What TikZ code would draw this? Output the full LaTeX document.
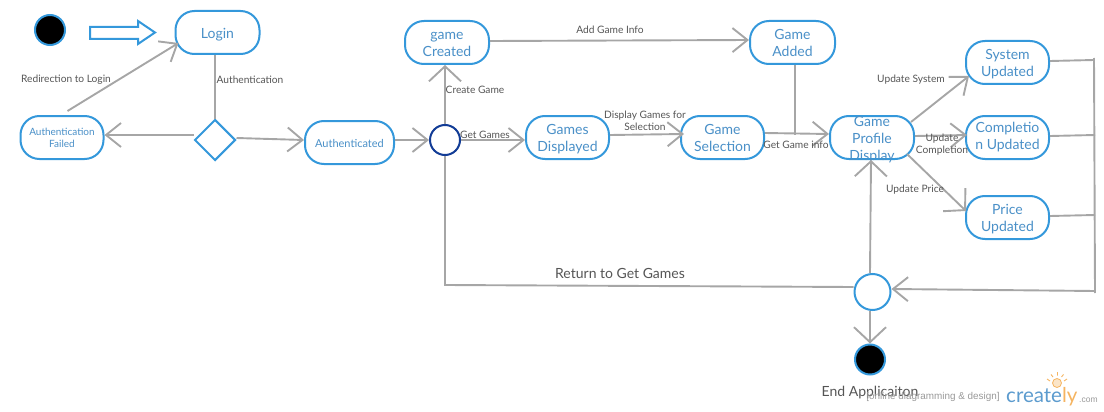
\documentclass[tikz,border=0pt]{standalone}
\usepackage{fontspec}
\setmainfont{Lato}
\newfontfamily\liberation{Liberation Sans}
\usetikzlibrary{arrows.meta,shapes.geometric}
\definecolor{bl}{HTML}{3498DB}
\definecolor{txtb}{HTML}{4A90C8}
\definecolor{ln}{HTML}{A6A6A6}
\definecolor{lab}{HTML}{555555}
\definecolor{navy}{HTML}{123C96}
\definecolor{orng}{HTML}{F5B461}
\newcommand\dn[1]{\raisebox{-2pt}[\height][\depth]{#1}}
\tikzset{
 state/.style={draw=bl,fill=white,line width=2pt,rounded corners=19pt,minimum width=83pt,minimum height=43pt,inner sep=0pt,align=center,text=txtb,font=\fontsize{14}{17}\selectfont},
 smallstate/.style={state,font=\fontsize{10}{12}\selectfont},
 dot/.style={circle,draw=bl,fill=black,line width=2pt,minimum size=30pt,inner sep=0pt},
 hollow/.style={circle,draw=bl,fill=white,line width=2pt,inner sep=0pt},
 lbl/.style={text=lab,font=\fontsize{10.2}{12}\selectfont,align=center,inner sep=0pt},
 conn/.style={draw=ln,line width=1.9pt},
 arr/.style={conn,-{Straight Barb[length=15pt,width=24pt,line width=1.9pt]}},
 arrw/.style={conn,-{Straight Barb[length=15pt,width=32pt,line width=1.9pt]}},
}
\begin{document}
\begin{tikzpicture}[x=1pt,y=-1pt]
\useasboundingbox (0,0) rectangle (1104,412);
% nodes
\node[dot] (start) at (50,30) {};
\node[state,minimum width=84pt] (login) at (217.5,32.5) {\dn{Login}};
\node[smallstate] (failed) at (62,137.5) {Authentication\\Failed};
\node[diamond,draw=bl,fill=white,line width=2pt,minimum size=41pt,inner sep=0pt] (dec) at (215,140) {};
\node[smallstate,font=\fontsize{11}{13}\selectfont,minimum width=89pt] (authd) at (349.5,142.5) {\raisebox{-1pt}[\height][\depth]{Authenticated}};
\node[hollow,draw=navy,minimum size=30pt] (fork) at (445,140) {};
\node[state,minimum width=84pt] (created) at (447,42.5) {\dn{game}\\\dn{Created}};
\node[state] (displayed) at (567.5,137.5) {\dn{Games}\\\dn{Displayed}};
\node[state] (selection) at (722.5,137.5) {Game\\Selection};
\node[state,minimum width=85pt] (added) at (792.5,42.5) {Game\\Added};
\node[state,minimum width=84pt] (profile) at (872,137.5) {\smash{\raisebox{-6pt}{\begin{tabular}[c]{@{}c@{}}Game\\Profile\\Display\end{tabular}}}};
\node[state] (system) at (1007.5,62.5) {\dn{System}\\\dn{Updated}};
\node[state] (completion) at (1007.5,137.5) {Completio\\n Updated};
\node[state] (price) at (1007.5,217.5) {\dn{Price}\\\dn{Updated}};
\node[hollow,minimum size=36pt] (merge) at (872.5,292) {};
\node[dot] (end) at (870,359.5) {};
\coordinate (bartop) at (1094,58);
\coordinate (barbot) at (1095,293);
\coordinate (barS) at (1094,60);
\coordinate (barC) at (1095,135);
\coordinate (barP) at (1095,215);
\coordinate (barM) at (1095,291);
\coordinate (bend) at (445,285);
% block arrow
\draw[bl,fill=white,line width=2pt,line join=miter] (90,27) -- (138,27) -- (138,21) -- (155,32.5) -- (138,44) -- (138,39) -- (90,39) -- cycle;
% connectors
\draw[arr] ([xshift=-37pt,yshift=4pt]failed.north east) -- ([xshift=4pt,yshift=12pt]login.south west);
\draw[conn] ([xshift=-2.5pt]login.south) -- (dec.north);
\draw[arr] ([yshift=5pt]dec.west) -- ([yshift=2.5pt]failed.east);
\draw[arr] ([yshift=2pt]dec.east) -- ([yshift=2.5pt]authd.west);
\draw[arr] ([yshift=2.5pt]authd.east) -- (fork.west);
\draw[arrw] (fork.north) -- ([xshift=-2pt]created.south);
\draw[arr] (fork.east) -- ([yshift=-2.5pt]displayed.west);
\draw[arr] ([yshift=2.5pt]displayed.east) -- ([xshift=4pt,yshift=3.5pt]selection.west);
\draw[arr] ([yshift=4.5pt]selection.east) -- ([yshift=3.5pt]profile.west);
\draw[conn] ([xshift=2.5pt]added.south) -- ([xshift=2.5pt,yshift=-70pt]added.south);
\draw[arr] ([yshift=1.5pt]created.east) -- ([yshift=2.5pt]added.west);
\draw[arr] ([xshift=-4pt,yshift=-7pt]profile.north east) -- ([xshift=4pt,yshift=9pt]system.south west);
\draw[arr] ([yshift=1.5pt]profile.east) -- ([xshift=2pt,yshift=2.5pt]completion.west);
\draw[arrw] ([xshift=-8pt,yshift=6pt]profile.south east) -- ([xshift=1pt,yshift=6.5pt]price.west);
\draw[arrw] ([xshift=-2.5pt]merge.north) -- ([xshift=-1pt]profile.south);
\draw[conn] (fork.south) -- (bend) -- ([yshift=5pt]merge.west);
\draw[conn] ([yshift=1.5pt]system.east) -- (barS);
\draw[conn] ([yshift=1.5pt]completion.east) -- (barC);
\draw[conn] ([yshift=1.5pt]price.east) -- (barP);
\draw[conn] (bartop) -- (barbot);
\draw[arr] (barM) -- ([yshift=3pt]merge.east);
\draw[arrw] ([xshift=-2.5pt]merge.south) -- (end.north);
% labels
\node[lbl] (l1) at (66,80) {Redirection to Login};
\node[lbl] (l2) at (250,80) {Authentication};
\node[lbl] (l3) at (475,90) {Create Game};
\node[lbl] (l4) at (485,135) {Get Games};
\node[lbl] (l5) at (610,30) {Add Game Info};
\node[lbl] (l6) at (645,121) {Display Games for\\Selection};
\node[lbl] (l7) at (796,145) {Get Game info};
\node[lbl] (l8) at (911,80) {Update System};
\node[lbl] (l9) at (942,145) {Update\\Completion};
\node[lbl] (l10) at (915,190) {Update Price};
\node[text=lab,font=\fontsize{14}{16}\selectfont,inner sep=0pt] (l11) at (620,273) {Return to Get Games};
\node[text=lab,font=\fontsize{14}{16}\selectfont,inner sep=0pt] (l12) at (870,393) {End Applicaiton};
% watermark
\node[text=gray!80,font=\liberation\fontsize{9.9}{11}\selectfont,inner sep=0pt] (wm) at (933,397) {[online diagramming \& design]};
\node[anchor=base west,inner sep=0pt,font=\fontsize{20.5}{24}\selectfont,text=txtb!90] (logo) at (1006,402) {create\textcolor{orng}{ly}};
\node[anchor=base west,inner sep=0pt,font=\liberation\fontsize{8.5}{10}\selectfont,text=gray!80] (com) at (1079,402) {.com};
\fill[orng!35] (1057,383) circle (4.5pt);
\draw[orng,line width=.8pt] (1057,383) circle (4.5pt);
\draw[orng,line width=.9pt] (1047,379)--(1050,381) (1051,374.5)--(1053,377) (1057.5,372)--(1057.5,375.5) (1063.5,374.5)--(1061.5,377) (1067,379)--(1064,381);
\end{tikzpicture}
\end{document}
